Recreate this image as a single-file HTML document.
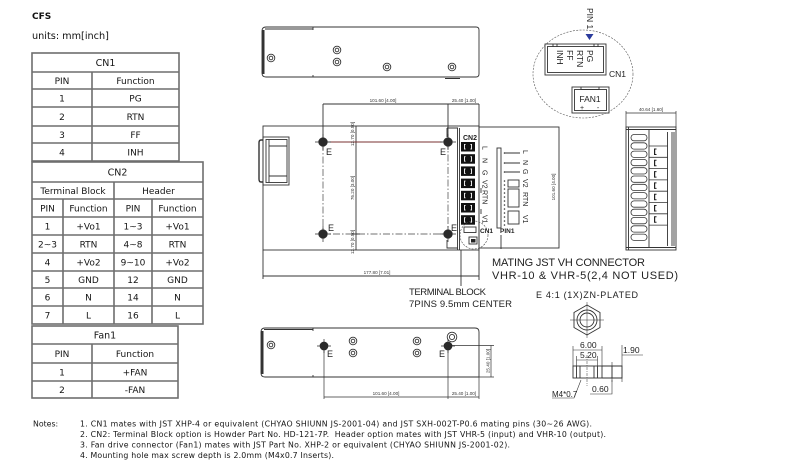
<!DOCTYPE html>
<html><head><meta charset="utf-8">
<style>
html,body{margin:0;padding:0;background:#fff;}
svg{display:block;}
.t{font-family:"DejaVu Sans","Liberation Sans",sans-serif;font-size:9px;fill:#151515;text-anchor:middle;}
.n{font-family:"DejaVu Sans","Liberation Sans",sans-serif;font-size:7.8px;fill:#151515;}
.c{font-family:"Liberation Sans",sans-serif;fill:#222;}
.d{font-family:"Liberation Sans",sans-serif;font-size:4.6px;fill:#333;text-anchor:middle;}
.ln{fill:none;stroke:#333;stroke-width:0.9;}
</style></head><body>
<svg width="810" height="462" viewBox="0 0 810 462" xmlns="http://www.w3.org/2000/svg">
<rect width="810" height="462" fill="#fff"/>

<!-- Header texts -->
<text x="32" y="19" font-family="DejaVu Sans, Liberation Sans, sans-serif" font-weight="bold" font-size="9" fill="#111">CFS</text>
<text x="32" y="39" font-family="DejaVu Sans, Liberation Sans, sans-serif" font-size="9.7" fill="#111">units: mm[inch]</text>

<!-- Tables -->
<g fill="none" stroke="#6e6e6e" stroke-width="1.6">
  <rect x="32" y="53" width="147" height="108"/>
  <path d="M32 72H179M32 89H179M32 107H179M32 126H179M32 143H179M92 72V161"/>
  <rect x="32" y="162" width="171" height="162"/>
  <path d="M32 182H203M32 199H203M32 217H203M32 235H203M32 253H203M32 271H203M32 288H203M32 306H203M114 182V324M63 199V324M152 199V324"/>
  <rect x="32" y="326" width="146" height="72"/>
  <path d="M32 344H178M32 363H178M32 381H178M92 344V398"/>
</g>
<g class="t">
  <text x="105.5" y="66" font-size="9.5">CN1</text>
  <text x="62" y="84">PIN</text><text x="135.5" y="84">Function</text>
  <text x="62" y="101.5">1</text><text x="135.5" y="101.5">PG</text>
  <text x="62" y="120">2</text><text x="135.5" y="120">RTN</text>
  <text x="62" y="138">3</text><text x="135.5" y="138">FF</text>
  <text x="62" y="155.5">4</text><text x="135.5" y="155.5">INH</text>

  <text x="117.5" y="175.5" font-size="9.5">CN2</text>
  <text x="73" y="194">Terminal Block</text><text x="158.5" y="194">Header</text>
  <text x="47.5" y="211.5">PIN</text><text x="88.5" y="211.5">Function</text><text x="133" y="211.5">PIN</text><text x="177.5" y="211.5">Function</text>
  <text x="47.5" y="229.5">1</text><text x="88.5" y="229.5">+Vo1</text><text x="133" y="229.5">1~3</text><text x="177.5" y="229.5">+Vo1</text>
  <text x="47.5" y="247.5">2~3</text><text x="88.5" y="247.5">RTN</text><text x="133" y="247.5">4~8</text><text x="177.5" y="247.5">RTN</text>
  <text x="47.5" y="265.5">4</text><text x="88.5" y="265.5">+Vo2</text><text x="133" y="265.5">9~10</text><text x="177.5" y="265.5">+Vo2</text>
  <text x="47.5" y="283">5</text><text x="88.5" y="283">GND</text><text x="133" y="283">12</text><text x="177.5" y="283">GND</text>
  <text x="47.5" y="300.5">6</text><text x="88.5" y="300.5">N</text><text x="133" y="300.5">14</text><text x="177.5" y="300.5">N</text>
  <text x="47.5" y="318.5">7</text><text x="88.5" y="318.5">L</text><text x="133" y="318.5">16</text><text x="177.5" y="318.5">L</text>

  <text x="105" y="338.5" font-size="9.5">Fan1</text>
  <text x="62" y="357">PIN</text><text x="135" y="357">Function</text>
  <text x="62" y="375.5">1</text><text x="135" y="375.5">+FAN</text>
  <text x="62" y="393">2</text><text x="135" y="393">-FAN</text>
</g>

<!-- TOP SIDE VIEW -->
<g class="ln">
  <path d="M266 27H476Q479 27 479 30V74Q479 77 476 77H266Q262 77 262 73V31Q262 27 266 27Z"/>
  <path d="M263.3 30V74" stroke-width="2.4"/>
  <path d="M265 29H313M313 27V30M313 75V77M445 78.5H460"/>
  <circle cx="271" cy="58" r="3.8"/><circle cx="271" cy="58" r="1.8"/>
  <circle cx="337" cy="50" r="3.8"/><circle cx="337" cy="50" r="1.8"/>
  <circle cx="337" cy="62" r="3.8"/><circle cx="337" cy="62" r="1.8"/>
  <circle cx="387" cy="67" r="3.8"/><circle cx="387" cy="67" r="1.8"/>
  <circle cx="452" cy="67" r="3.8"/><circle cx="452" cy="67" r="1.8"/>
</g>

<!-- CN1 INSET -->
<ellipse cx="583" cy="74" rx="50" ry="44" fill="none" stroke="#555" stroke-width="0.6" stroke-dasharray="2 1.3"/>
<text class="c" font-size="8.5" transform="translate(587,8) rotate(90)">PIN 1</text>
<polygon points="585.5,34 593.5,34 589.5,40" fill="#2b3b9c"/>
<g class="ln">
  <rect x="545" y="44" width="61" height="31" fill="#fff"/>
  <rect x="547.5" y="46.5" width="56" height="26"/>
  <path d="M553 44V47M557 44V47M594 44V47M598 44V47"/>
  <rect x="572" y="87" width="37" height="26" fill="#fff"/>
  <rect x="574.5" y="89.5" width="32" height="21"/>
  <path d="M581 87V89.5H599V87"/>
</g>
<g class="c" font-size="8.5">
  <text transform="translate(587,50) rotate(90)">PG</text>
  <text transform="translate(577,50) rotate(90)">RTN</text>
  <text transform="translate(567,50) rotate(90)">FF</text>
  <text transform="translate(557,50) rotate(90)">INH</text>
  <text x="609" y="77">CN1</text>
  <text x="590" y="102" text-anchor="middle">FAN1</text>
  <text x="582" y="110" text-anchor="middle" font-size="7">+</text>
  <text x="598" y="110" text-anchor="middle" font-size="7">-</text>
</g>

<!-- MAIN VIEW -->
<g class="ln">
  <rect x="263" y="126" width="216" height="124"/>
  <rect x="479" y="127" width="80" height="121"/>
  <!-- fan -->
  <path d="M263 140H261Q259 140 259 143V179Q259 182 261 182H263" stroke-width="1.4"/>
  <rect x="263" y="137" width="26" height="48"/>
  <rect x="266" y="139.5" width="21" height="43"/>
  <path d="M269 139.5V182.5M269 146H287M269 176H287"/>
  <!-- CN2 frame -->
  <path d="M447 128H458M447 128V137M447 240V248H458M457.5 128V250M459.5 128V250"/>
  <!-- dims -->
  <path d="M323 104V142M448 104V142M479 104V280M323 104H479M263 250V279M263 276H479M356 126V250M352 142H360M352 234H360"/>
  <path d="M461 250V286"/>
</g>
<rect x="323" y="142" width="125" height="92" fill="none" stroke="#444" stroke-width="0.7" stroke-dasharray="7 2 1.5 2"/>
<line x1="330" y1="142" x2="441" y2="142" stroke="#7a3030" stroke-width="1.1"/>
<g fill="#2a2a2a" stroke="#2a2a2a" stroke-width="0.7">
  <circle cx="323" cy="142" r="4.3"/><path d="M315 142H331M323 134V150"/>
  <circle cx="448" cy="142" r="4.3"/><path d="M440 142H456M448 134V150"/>
  <circle cx="323" cy="234" r="4.3"/><path d="M315 234H331M323 226V242"/>
  <circle cx="448" cy="234" r="4.3"/><path d="M440 234H456M448 226V242"/>
</g>
<g class="c" font-size="9">
  <text x="326" y="155">E</text><text x="440" y="155">E</text>
  <text x="328" y="231">E</text><text x="451" y="231">E</text>
</g>
<g class="d">
  <text x="383" y="102">101.60  [4.00]</text>
  <text x="464" y="102">25.40 [1.00]</text>
  <text x="377" y="274">177.80  [7.01]</text>
  <text transform="translate(354,134) rotate(-90)">12.70 [0.50]</text>
  <text transform="translate(354,188) rotate(-90)">76.20 [3.00]</text>
  <text transform="translate(354,242) rotate(-90)">12.70 [0.50]</text>
  <text transform="translate(555,187) rotate(-90)">101.60 [4.00]</text>
  <text x="651" y="111">40.64 [1.60]</text>
</g>
<!-- CN2 blocks -->
<g fill="#111">
  <rect x="461" y="142" width="14" height="9.5"/>
  <rect x="461" y="154.2" width="14" height="9.5"/>
  <rect x="461" y="166.4" width="14" height="9.5"/>
  <rect x="461" y="178.6" width="14" height="9.5"/>
  <rect x="461" y="190.8" width="14" height="9.5"/>
  <rect x="461" y="203" width="14" height="9.5"/>
  <rect x="461" y="215.2" width="14" height="9.5"/>
</g>
<g fill="none" stroke="#fff" stroke-width="0.9">
  <path d="M465.5 144.5H464.5V149H465.5M470.5 144.5H471.5V149H470.5"/>
  <path d="M465.5 156.7H464.5V161.2H465.5M470.5 156.7H471.5V161.2H470.5"/>
  <path d="M465.5 168.9H464.5V173.4H465.5M470.5 168.9H471.5V173.4H470.5"/>
  <path d="M465.5 181.1H464.5V185.6H465.5M470.5 181.1H471.5V185.6H470.5"/>
  <path d="M465.5 193.3H464.5V197.8H465.5M470.5 193.3H471.5V197.8H470.5"/>
  <path d="M465.5 205.5H464.5V210H465.5M470.5 205.5H471.5V210H470.5"/>
  <path d="M465.5 217.7H464.5V222.2H465.5M470.5 217.7H471.5V222.2H470.5"/>
</g>
<g class="c" font-size="7">
  <text x="463" y="140" font-weight="bold" font-size="7">CN2</text>
  <text transform="translate(482.5,146) rotate(90)">L</text>
  <text transform="translate(482.5,158) rotate(90)">N</text>
  <text transform="translate(482.5,170) rotate(90)">G</text>
  <text transform="translate(482.5,180) rotate(90)">V2</text>
  <text transform="translate(482.5,190) rotate(90)">RTN</text>
  <text transform="translate(482.5,215) rotate(90)">V1</text>
  <text x="480" y="233" font-weight="bold" font-size="6.5">CN1</text>
  <text x="500" y="233" font-weight="bold" font-size="6.5">PIN1</text>
  <text transform="translate(523,150) rotate(90)">L</text>
  <text transform="translate(523,160) rotate(90)">N</text>
  <text transform="translate(523,169) rotate(90)">G</text>
  <text transform="translate(523,179) rotate(90)">V2</text>
  <text transform="translate(523,192) rotate(90)">RTN</text>
  <text transform="translate(523,215) rotate(90)">V1</text>
</g>
<g class="ln" stroke-width="0.8">
  <path d="M481 188V193M481 209V214"/>
  <rect x="464" y="227" width="12" height="5.5"/>
  <rect x="469" y="237" width="8" height="7"/>
  <rect x="497" y="148" width="4" height="80"/>
  <path d="M505 153H520M505 163H520M505 172H520"/>
  <rect x="508" y="180" width="11" height="7"/>
  <rect x="508" y="189" width="11" height="18"/>
  <rect x="508" y="211" width="11" height="13"/>
  <path d="M501 235V249"/>
</g>
<rect x="471" y="239" width="4.5" height="3.5" fill="#222"/>
<circle cx="474" cy="235" r="14" fill="none" stroke="#444" stroke-width="0.6" stroke-dasharray="2 1.2"/>
<g fill="#333">
  <circle cx="504.5" cy="153" r="0.8"/><circle cx="504.5" cy="163" r="0.8"/><circle cx="504.5" cy="172" r="0.8"/>
  <circle cx="504.5" cy="181" r="0.8"/><circle cx="504.5" cy="185" r="0.8"/><circle cx="504.5" cy="189" r="0.8"/>
  <circle cx="504.5" cy="193" r="0.8"/><circle cx="504.5" cy="197" r="0.8"/><circle cx="504.5" cy="201" r="0.8"/>
  <circle cx="504.5" cy="205" r="0.8"/><circle cx="504.5" cy="209" r="0.8"/><circle cx="504.5" cy="213" r="0.8"/>
  <circle cx="504.5" cy="217" r="0.8"/><circle cx="504.5" cy="221" r="0.8"/><circle cx="504.5" cy="225" r="0.8"/>
</g>

<!-- CAD texts -->
<g class="c">
  <text x="492" y="266" font-size="11" textLength="153">MATING JST VH CONNECTOR</text>
  <text x="492" y="279" font-size="11" textLength="186">VHR-10 &amp; VHR-5(2,4 NOT USED)</text>
  <text x="409" y="295" font-size="9.5" textLength="77">TERMINAL BLOCK</text>
  <text x="409" y="307" font-size="9.5" textLength="103">7PINS 9.5mm CENTER</text>
  <text x="536" y="298" font-size="9" textLength="102">E 4:1 (1X)ZN-PLATED</text>
</g>

<!-- RIGHT SIDE VIEW -->
<g class="ln">
  <rect x="626" y="127" width="50" height="123"/>
  <path d="M628.5 127V250M626 129.5H676M626 247.5H676M649 129.5V247.5M667.5 132V246M672 132V246M674 132V246"/>
  <path d="M626 111V127M676 111V127M626 113H676" stroke-width="0.7"/>
</g>
<g fill="none" stroke="#333" stroke-width="0.8">
  <rect x="631" y="134.5" width="16" height="6.3" rx="3"/>
  <rect x="631" y="142.8" width="16" height="6.3" rx="3"/>
  <rect x="631" y="151.1" width="16" height="6.3" rx="3"/>
  <rect x="631" y="159.4" width="16" height="6.3" rx="3"/>
  <rect x="631" y="167.7" width="16" height="6.3" rx="3"/>
  <rect x="631" y="176" width="16" height="6.3" rx="3"/>
  <rect x="631" y="184.3" width="16" height="6.3" rx="3"/>
  <rect x="631" y="192.6" width="16" height="6.3" rx="3"/>
  <rect x="631" y="200.9" width="16" height="6.3" rx="3"/>
  <rect x="631" y="209.2" width="16" height="6.3" rx="3"/>
  <rect x="631" y="217.5" width="16" height="6.3" rx="3"/>
  <rect x="631" y="225.8" width="16" height="6.3" rx="3"/>
  <rect x="631" y="234.1" width="16" height="6.3" rx="3"/>
  <path d="M649 146H668M649 157.3H668M649 168.6H668M649 179.9H668M649 191.2H668M649 202.5H668M649 213.8H668M649 225.1H668"/>
</g>
<g fill="#222">
  <path d="M654 148.5h2.5v1h-1.3v4.5h1.3v1H654z"/>
  <path d="M654 159.8h2.5v1h-1.3v4.5h1.3v1H654z"/>
  <path d="M654 171.1h2.5v1h-1.3v4.5h1.3v1H654z"/>
  <path d="M654 182.4h2.5v1h-1.3v4.5h1.3v1H654z"/>
  <path d="M654 193.7h2.5v1h-1.3v4.5h1.3v1H654z"/>
  <path d="M654 205h2.5v1h-1.3v4.5h1.3v1H654z"/>
  <path d="M654 216.3h2.5v1h-1.3v4.5h1.3v1H654z"/>
</g>

<!-- BOTTOM VIEW -->
<g class="ln">
  <path d="M265 328H475Q479 328 479 332V377H265Q261 377 261 373V332Q261 328 265 328Z"/>
  <path d="M262.3 331V374" stroke-width="2.4"/>
  <path d="M264 329.5H313M313 328V331M313 375V377"/>
  <circle cx="271" cy="345" r="3.8"/><circle cx="271" cy="345" r="1.8"/>
  <circle cx="353" cy="341" r="3.8"/><circle cx="353" cy="341" r="1.8"/>
  <circle cx="353" cy="353" r="3.8"/><circle cx="353" cy="353" r="1.8"/>
  <circle cx="417" cy="341" r="3.8"/><circle cx="417" cy="341" r="1.8"/>
  <circle cx="417" cy="353" r="3.8"/><circle cx="417" cy="353" r="1.8"/>
  <circle cx="452" cy="337" r="4.8"/><circle cx="452" cy="337" r="2.6"/>
  <path d="M324 346V399M448 346V399M479 377V399M324 397H479M448 345.5H494M479 377H494M491 345.5V377" stroke-width="0.7"/>
</g>
<g fill="#2a2a2a" stroke="#2a2a2a" stroke-width="0.7">
  <circle cx="324" cy="346" r="4"/><path d="M317 346H331M324 339V353"/>
  <circle cx="448" cy="346" r="4"/><path d="M441 346H455M448 339V353"/>
</g>
<g class="c" font-size="9">
  <text x="327" y="357">E</text><text x="439" y="357">E</text>
</g>
<g class="d">
  <text x="386" y="395">101.60  [4.00]</text>
  <text x="464" y="395">25.40 [1.00]</text>
  <text transform="translate(489.5,361) rotate(-90)">25.40 [1.00]</text>
</g>

<!-- SCREW DETAIL -->
<g class="ln" stroke-width="0.8">
  <polygon points="587,305 600,312.5 600,327.5 587,335 574,327.5 574,312.5"/>
  <circle cx="587" cy="320" r="10"/>
  <circle cx="587" cy="320" r="7"/>
  <path d="M570 320H604M587 302V338" stroke-width="0.5"/>
  <rect x="573" y="366" width="29" height="12"/>
  <path d="M602 366H622V378H602M612 366V378M576.5 366V378M580 366V378M594 366V378M597.5 366V378"/>
  <path d="M587 355V386" stroke-dasharray="3 1 1 1" stroke-width="0.5"/>
  <path d="M573 346V366M602 346V366M573 350H602M576.5 356V366M597.5 356V366M576.5 360H597.5" stroke-width="0.6"/>
  <path d="M612 362V366M622 345V382M622 355H643M612 382V366" stroke-width="0.6"/>
  <path d="M590 394H612V380M552 398H574L581 380" stroke-width="0.6"/>
</g>
<g class="c" font-size="8.5">
  <text x="580" y="348">6.00</text>
  <text x="580" y="358">5.20</text>
  <text x="623" y="353">1.90</text>
  <text x="592" y="392">0.60</text>
  <text x="552" y="397" font-size="8">M4*0.7</text>
</g>

<!-- NOTES -->
<g class="n">
  <text x="33" y="426.5">Notes:</text>
  <text x="80" y="426.5" textLength="512">1. CN1 mates with JST XHP-4 or equivalent (CHYAO SHIUNN JS-2001-04) and JST SXH-002T-P0.6 mating pins (30~26 AWG).</text>
  <text x="80" y="437" textLength="526">2. CN2: Terminal Block option is Howder Part No. HD-121-7P.&#160; Header option mates with JST VHR-5 (input) and VHR-10 (output).</text>
  <text x="80" y="447.5" textLength="430">3. Fan drive connector (Fan1) mates with JST Part No. XHP-2 or equivalent (CHYAO SHIUNN JS-2001-02).</text>
  <text x="80" y="458" textLength="254">4. Mounting hole max screw depth is 2.0mm (M4x0.7 Inserts).</text>
</g>
</svg>
</body></html>
